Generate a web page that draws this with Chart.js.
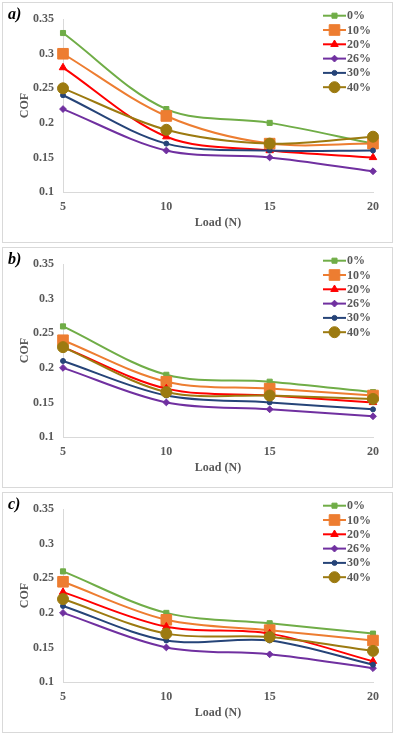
<!DOCTYPE html>
<html>
<head>
<meta charset="utf-8">
<script src="https://cdn.jsdelivr.net/npm/chart.js@4.4.0/dist/chart.umd.min.js"></script>
<style>
  body { margin: 0; background: #fff; }
  .panel { position: absolute; left: 2px; width: 389px; height: 239px; border: 1px solid #d9d9d9; }
  canvas { display: block; }
</style>
</head>
<body>
<div class="panel" style="top:2px"><canvas id="chartA" width="389" height="239"></canvas></div>
<div class="panel" style="top:247px"><canvas id="chartB" width="389" height="239"></canvas></div>
<div class="panel" style="top:492px"><canvas id="chartC" width="389" height="239"></canvas></div>
<script>
// x categories (load in N) and series names
const loadLabels = ['5', '10', '15', '20'];
const seriesNames = ['0%', '10%', '20%', '26%', '30%', '40%'];

// panel a) COF values
const a0 = [0.33, 0.22, 0.20, 0.17];
const a10 = [0.30, 0.21, 0.17, 0.17];
const a20 = [0.28, 0.18, 0.16, 0.15];
const a26 = [0.22, 0.16, 0.15, 0.13];
const a30 = [0.24, 0.17, 0.16, 0.16];
const a40 = [0.25, 0.19, 0.17, 0.18];

// panel b)
const b0 = [0.26, 0.19, 0.18, 0.165];
const b10 = [0.24, 0.18, 0.17, 0.16];
const b20 = [0.23, 0.17, 0.16, 0.15];
const b26 = [0.20, 0.15, 0.14, 0.13];
const b30 = [0.21, 0.16, 0.15, 0.14];
const b40 = [0.23, 0.165, 0.16, 0.155];

// panel c)
const c0 = [0.26, 0.20, 0.185, 0.17];
const c10 = [0.245, 0.19, 0.175, 0.16];
const c20 = [0.23, 0.18, 0.17, 0.13];
const c26 = [0.20, 0.15, 0.14, 0.12];
const c30 = [0.21, 0.16, 0.16, 0.125];
const c40 = [0.22, 0.17, 0.165, 0.145];

// y axis tick range
const yMin = 0.1;
const yMax = 0.35;
const yStep = 0.05;

const seriesColors = ['#70ad47', '#ed7d31', '#ff0000', '#7030a0', '#264478', '#9c7a10'];
const markerStyles = ['rect', 'rect', 'triangle', 'rectRot', 'circle', 'circle'];
const markerSizes = [3.6, 7.5, 4.3, 3.4, 2.5, 5.5];

const greyText = '#595959';
const serif = '"Liberation Serif", "Times New Roman", serif';

function makeDatasets(rows) {
  return rows.map(function (vals, i) {
    return {
      label: seriesNames[i],
      data: vals,
      borderColor: seriesColors[i],
      backgroundColor: seriesColors[i],
      pointBackgroundColor: seriesColors[i],
      pointBorderColor: seriesColors[i],
      pointStyle: markerStyles[i],
      pointRadius: markerSizes[i],
      pointBorderWidth: 1,
      borderWidth: 2,
      tension: 0.33,
      order: rows.length - 1 - i
    };
  });
}

// legend box in the top right + the panel letter
const panelDecor = {
  id: 'panelDecor',
  afterDraw(chart, args, opts) {
    const ctx = chart.ctx;
    ctx.save();
    ctx.textBaseline = 'middle';
    ctx.textAlign = 'left';
    ctx.fillStyle = '#000';
    ctx.font = 'italic bold 16px ' + serif;
    ctx.fillText(opts.letter, 5, 12);

    ctx.font = 'bold 12px ' + serif;
    chart.data.datasets.forEach(function (ds, i) {
      const y = 12.7 + i * 14.3;
      ctx.strokeStyle = ds.borderColor;
      ctx.lineWidth = 2;
      ctx.beginPath();
      ctx.moveTo(320, y);
      ctx.lineTo(343, y);
      ctx.stroke();
      ctx.fillStyle = ds.pointBackgroundColor;
      ctx.lineWidth = 1;
      Chart.helpers.drawPoint(ctx, {
        pointStyle: ds.pointStyle,
        radius: ds.pointRadius,
        borderWidth: 1,
        rotation: 0
      }, 331.5, y);
      ctx.fillStyle = greyText;
      ctx.fillText(ds.label, 344, y + 0.5);
    });
    ctx.restore();
  }
};

function makeConfig(rows, letter) {
  return {
    type: 'line',
    data: {
      labels: loadLabels,
      datasets: makeDatasets(rows)
    },
    options: {
      responsive: false,
      animation: false,
      layout: {
        padding: { top: 13, right: 19, left: 0, bottom: 0 }
      },
      plugins: {
        legend: { display: false },
        tooltip: { enabled: false },
        panelDecor: { letter: letter }
      },
      scales: {
        x: {
          type: 'category',
          offset: false,
          grid: { display: false, drawTicks: false },
          border: { display: true, color: '#d9d9d9', width: 1 },
          ticks: {
            color: greyText,
            font: { family: serif, size: 12, weight: 'bold' },
            padding: 8,
            maxRotation: 0,
            autoSkip: false
          },
          title: {
            display: true,
            text: 'Load (N)',
            color: greyText,
            font: { family: serif, size: 12, weight: 'bold' },
            padding: { top: 0, bottom: 12 }
          },
          afterFit: function (scale) { scale.height = 50; }
        },
        y: {
          min: yMin,
          max: yMax,
          grid: { display: false, drawTicks: false },
          border: { display: true, color: '#d9d9d9', width: 1 },
          ticks: {
            stepSize: yStep,
            color: greyText,
            font: { family: serif, size: 12, weight: 'bold' },
            padding: 9,
            callback: function (v) { return String(Math.round(v * 100) / 100); }
          },
          title: {
            display: true,
            text: 'COF',
            color: greyText,
            font: { family: serif, size: 12, weight: 'bold' },
            padding: { top: 15, bottom: 0 }
          },
          afterFit: function (scale) { scale.width = 60; }
        }
      }
    },
    plugins: [panelDecor]
  };
}

var chartA = new Chart(document.getElementById('chartA'), makeConfig([a0, a10, a20, a26, a30, a40], 'a)'));
var chartB = new Chart(document.getElementById('chartB'), makeConfig([b0, b10, b20, b26, b30, b40], 'b)'));
var chartC = new Chart(document.getElementById('chartC'), makeConfig([c0, c10, c20, c26, c30, c40], 'c)'));
</script>
</body>
</html>
